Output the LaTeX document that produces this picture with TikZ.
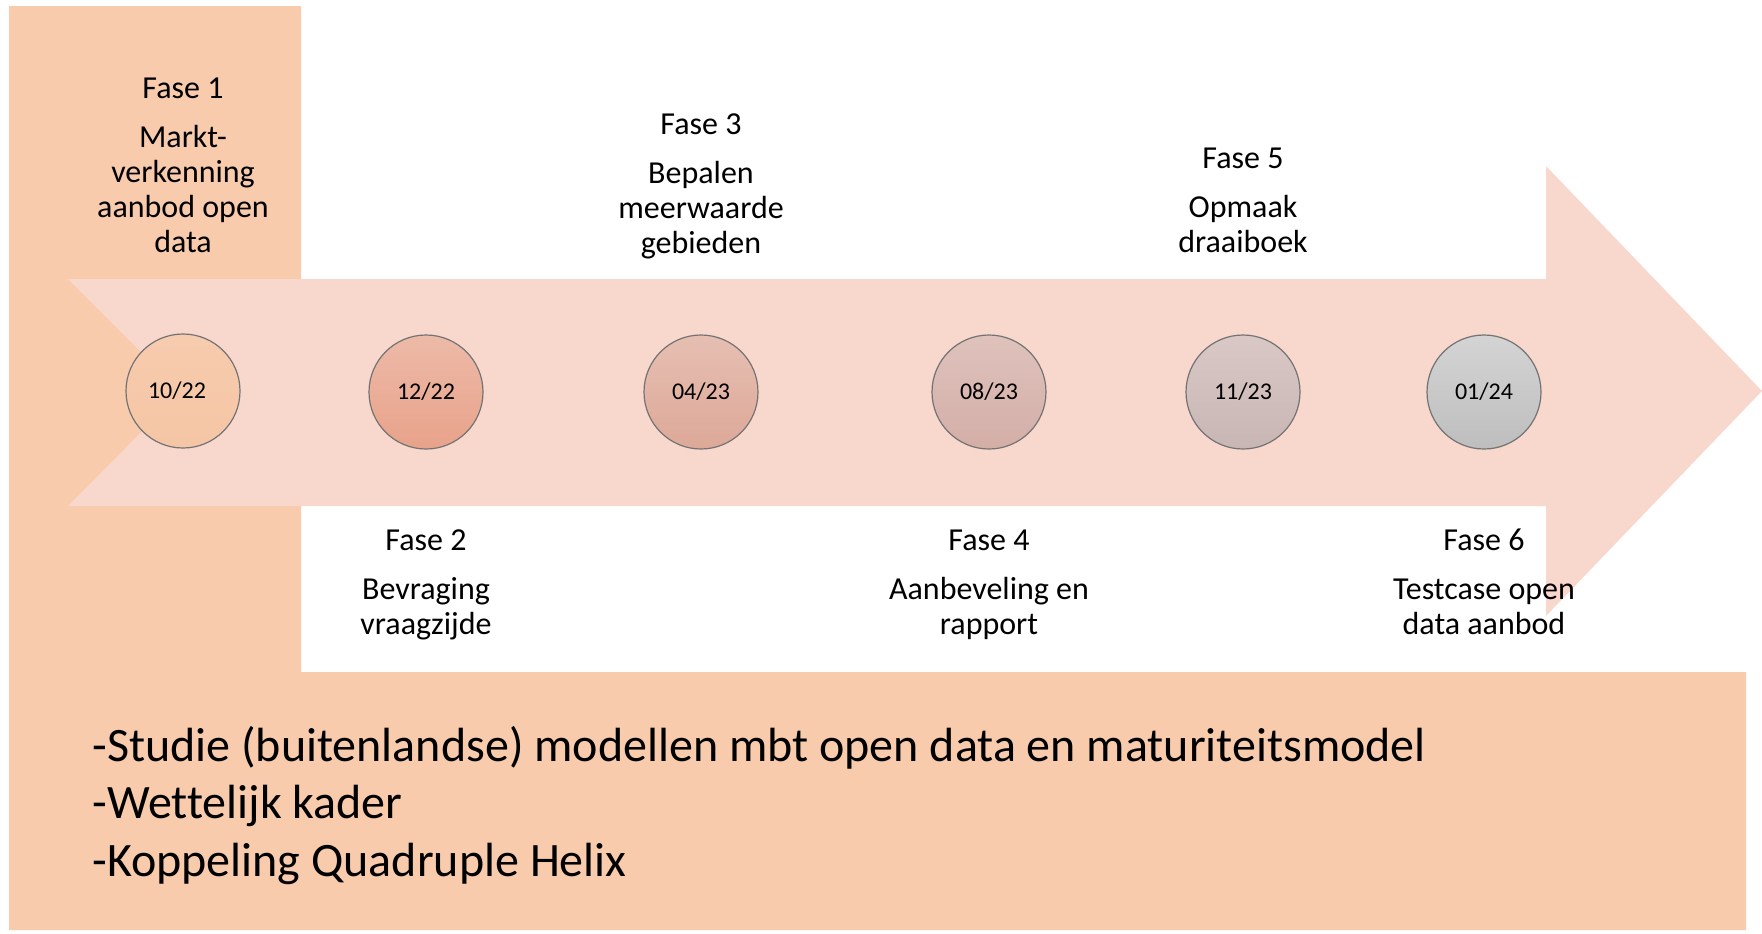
\documentclass[tikz,border=0pt]{standalone}
\usepackage{fontspec}
\setmainfont{Carlito}[Ligatures=NoCommon]
\definecolor{peach}{HTML}{F8CBAD}
\definecolor{arrowfill}{HTML}{F8D7CC}
\definecolor{c1t}{HTML}{F7CBAE}\definecolor{c1b}{HTML}{F5C6A5}
\definecolor{c2t}{HTML}{EDBAA8}\definecolor{c2b}{HTML}{E8A28A}
\definecolor{c3t}{HTML}{E6BFB2}\definecolor{c3b}{HTML}{DDA898}
\definecolor{c4t}{HTML}{DFC2BC}\definecolor{c4b}{HTML}{D3AEA7}
\definecolor{c5t}{HTML}{D9C8C6}\definecolor{c5b}{HTML}{C8B6B4}
\definecolor{c6t}{HTML}{D4D4D4}\definecolor{c6b}{HTML}{BEBEBE}
\begin{document}
\begin{tikzpicture}[x=0.5pt,y=-0.5pt,
  datebox/.style={circle, minimum size=57pt, inner sep=0pt, draw=black!55, line width=0.6pt, font=\fontsize{12}{14}\selectfont},
  phase/.style={anchor=base, inner sep=0pt, font=\fontsize{16}{17.5}\selectfont},
  notes/.style={anchor=base west, inner sep=0pt, font=\fontsize{24}{28.75}\selectfont}]
\useasboundingbox (0,0) rectangle (1762,933);
% background L-shape
\fill[peach] (9,6) -- (301,6) -- (301,672) -- (1746,672) -- (1746,930) -- (9,930) -- cycle;
% big arrow
\fill[arrowfill] (68,279) -- (1546,279) -- (1546,166) -- (1762,391) -- (1546,616) -- (1546,506) -- (68,506) -- (181,392) -- cycle;
% date circles
\node[datebox, top color=c1t, bottom color=c1b] (d1) at (183,391) {10/22\hspace*{6pt}};
\node[datebox, top color=c2t, bottom color=c2b] (d2) at (426,392) {12/22};
\node[datebox, top color=c3t, bottom color=c3b] (d3) at (701,392) {04/23};
\node[datebox, top color=c4t, bottom color=c4b] (d4) at (989,392) {08/23};
\node[datebox, top color=c5t, bottom color=c5b] (d5) at (1243,392) {11/23};
\node[datebox, top color=c6t, bottom color=c6b] (d6) at (1484,392) {01/24};
% phase labels
\node[phase] (p1) at (183,98) {\begin{tabular}[t]{@{}c@{}}Fase 1\\[7pt] Markt-\\ verkenning\\ aanbod open\\ data\end{tabular}};
\node[phase] (p3) at (701,134) {\begin{tabular}[t]{@{}c@{}}Fase 3\\[7pt] Bepalen\\ meerwaarde\\ gebieden\end{tabular}};
\node[phase] (p5) at (1243,168) {\begin{tabular}[t]{@{}c@{}}Fase 5\\[7pt] Opmaak\\ draaiboek\end{tabular}};
\node[phase] (p2) at (426,550) {\begin{tabular}[t]{@{}c@{}}Fase 2\\[7pt] Bevraging\\ vraagzijde\end{tabular}};
\node[phase] (p4) at (989,550) {\begin{tabular}[t]{@{}c@{}}Fase 4\\[7pt] Aanbeveling en\\ rapport\end{tabular}};
\node[phase] (p6) at (1484,550) {\begin{tabular}[t]{@{}c@{}}Fase 6\\[7pt] Testcase open\\ data aanbod\end{tabular}};
% notes
\node[notes] (n) at (92,761) {\begin{tabular}[t]{@{}l@{}}-Studie (buitenlandse) modellen mbt open data en maturiteitsmodel\\ -Wettelijk kader\\ -Koppeling Quadruple Helix\end{tabular}};
\end{tikzpicture}
\end{document}
